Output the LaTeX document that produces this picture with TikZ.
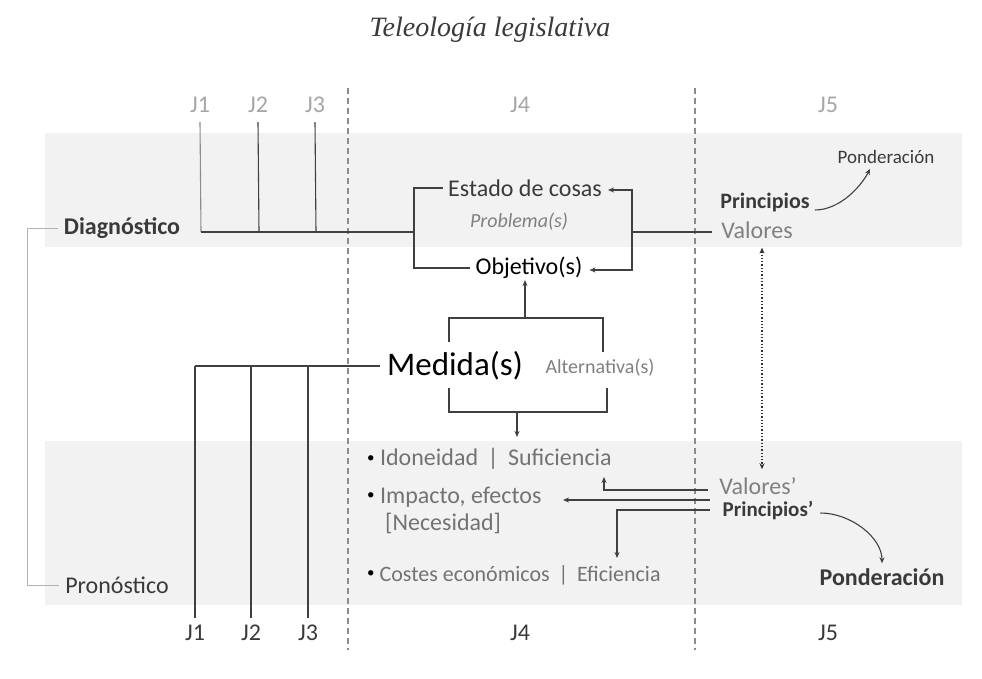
\documentclass[tikz,border=0pt]{standalone}
\usepackage{fontspec}
\setmainfont{Carlito}
\newfontfamily\titlefont{Liberation Serif}
\usetikzlibrary{arrows.meta}
\definecolor{bandgray}{HTML}{F2F2F2}
\definecolor{txtgray}{HTML}{808080}
\definecolor{txtlight}{HTML}{A6A6A6}
\definecolor{txtdark}{HTML}{3A3A3A}
\definecolor{linegray}{HTML}{8C8C8C}
\newcommand{\bul}{\raisebox{3.5pt}{\fontsize{15}{15}\selectfont\textcolor{black}{•}}}
\tikzset{
    band_fill/.style={fill=bandgray, draw=none},
    sep_line/.style={draw=linegray, line width=1.2pt, dash pattern=on 6pt off 4pt},
    base_text/.style={inner sep=1pt, font=\fontsize{24}{28}\selectfont},
    small_text/.style={inner sep=1pt, font=\fontsize{20}{24}\selectfont},
    j_top/.style={base_text, text=txtlight},
    j_bot/.style={base_text, text=txtdark},
    head_text/.style={base_text, text=txtdark, font=\fontsize{24}{28}\selectfont\bfseries},
    item_text/.style={base_text, text=txtgray!90!black, anchor=west},
    link/.style={draw=black!75, line width=1.1pt},
    link_arrow/.style={link, -{Stealth[length=6pt, width=5pt]}},
    dot_arrow/.style={draw=black!80, line width=1.3pt, dotted, {Stealth[length=6pt, width=5pt]}-{Stealth[length=6pt, width=5pt]}},
    brace_line/.style={draw=black!30, line width=0.8pt}
}

\begin{document}
\begin{tikzpicture}[x=1pt, y=-1pt, >=Stealth]
\useasboundingbox (0,0) rectangle (982,679);

% gray bands
\fill[band_fill] (45,133) rectangle (962,247);
\fill[band_fill] (45,441) rectangle (962,605);

% title
\node[text=txtdark, font=\titlefont\itshape\fontsize{28}{30}\selectfont] (title) at (490,30) {Teleología legislativa};

% column separators
\draw[sep_line] (348,88) -- (348,650);
\draw[sep_line] (695,88) -- (695,650);

% column labels
\foreach \n/\x in {1/200, 2/258, 3/315} {
    \node[j_top] (jt\n) at (\x,105) {J\n};
}
\node[j_top] (jt4) at (520,105) {J4};
\node[j_top] (jt5) at (828,105) {J5};
\foreach \n/\x in {1/195, 2/251, 3/308} {
    \node[j_bot] (jb\n) at (\x,633) {J\n};
}
\node[j_bot] (jb4) at (520,633) {J4};
\node[j_bot] (jb5) at (828,633) {J5};

% left side
\node[head_text] (diag)  at (122,228) {Diagnóstico};
\node[base_text, text=txtdark] (prono) at (117,585) {Pronóstico};
\draw[brace_line] ([xshift=-5pt]diag.west) -- ++(-30,0) |- ([xshift=-5pt]prono.west);

% diagnostico block
\node[base_text, text=txtdark] (estado) at (525,188) {Estado de cosas};
\node[small_text, text=txtgray, font=\fontsize{20}{24}\selectfont\itshape] (problema) at (519,222) {Problema(s)};
\node[base_text, text=black] (objetivo) at (529,268) {Objetivo(s)};
\node[head_text, font=\fontsize{22}{26}\selectfont\bfseries] (principios) at (765,203) {Principios};
\node[base_text, text=txtgray] (valores) at (757,230) {Valores};
\node[small_text, text=txtdark, font=\fontsize{19}{22}\selectfont] (pond_top) at (886,157) {Ponderación};

\coordinate (d1) at (201,232);
\coordinate (d2) at (259,232);
\coordinate (d3) at (316,232);
\coordinate (lb) at (414,232);
\coordinate (rb) at (632,232);

\draw[link, draw=black!45] ([yshift=-8pt]jt1.south) -- (d1);
\draw[link] ([yshift=-8pt]jt2.south) -- (d2);
\draw[link] ([yshift=-8pt]jt3.south) -- (d3);
\draw[link] (d1) -- (lb);
\draw[link] ([xshift=-4pt]estado.west) -| (lb) |- ([xshift=-4pt]objetivo.west);
\draw[link_arrow] (rb) |- ([xshift=5pt, yshift=-2pt]estado.east);
\draw[link_arrow] (rb) |- ([xshift=6pt, yshift=-2pt]objetivo.east);
\draw[link] (rb) -- ([xshift=-8pt]valores.west |- rb);
\draw[link_arrow] ([xshift=4pt, yshift=-7pt]principios.east)
    .. controls +(26,0) and +(-8,16) .. ([xshift=-16pt, yshift=-4pt]pond_top.south);

% medidas
\node[base_text, text=black, font=\fontsize{33}{38}\selectfont] (medida) at (455,366) {Medida(s)};
\node[small_text, text=txtgray] (altern) at (600,368) {Alternativa(s)};

\coordinate (mt_l) at (449,342);
\coordinate (mt_r) at (603,352);
\coordinate (mtop) at (525,318);
\coordinate (mb_l) at (449,388);
\coordinate (mb_r) at (607,388);
\coordinate (mbot) at (517,412);
\coordinate (mdown) at (517,437);

\draw[link] (mt_l) |- (mtop) -| (mt_r);
\draw[link_arrow] (mtop) -- (mtop |- objetivo.south);
\draw[link] (mb_l) |- (mbot) -| (mb_r);
\draw[link_arrow] (mbot) -- (mdown);

\coordinate (p1) at (195,366);
\coordinate (p2) at (251,366);
\coordinate (p3) at (308,366);
\draw[link] ([xshift=-6pt]medida.west) -- (p1);
\foreach \n in {1,2,3} {
    \draw[link] (p\n) -- ([yshift=6pt]jb\n.north);
}

% pronostico block
\node[item_text] (idon) at (366,459) {\bul\ Idoneidad \,|\, Suficiencia};
\node[item_text] (impact) at (366,497) {\bul\ Impacto, efectos};
\node[item_text] (neces) at (384,523) {[Necesidad]};
\node[item_text, font=\fontsize{22}{24}\selectfont] (costes) at (366,575) {\bul\ Costes económicos \,|\, Eficiencia};

\node[base_text, text=txtgray] (valores2) at (758,486) {Valores’};
\node[head_text, font=\fontsize{21}{24}\selectfont\bfseries] (principios2) at (768,511) {Principios’};
\node[head_text] (pond_bot) at (882,577) {Ponderación};

\draw[dot_arrow] ([xshift=5pt, yshift=-8pt]valores.south) -- ([xshift=4pt, yshift=7pt]valores2.north);

\coordinate (v_in1) at (708,490);
\coordinate (v_in2) at (710,500);
\coordinate (v_in3) at (710,510);
\coordinate (t_suf) at (604,477);
\coordinate (t_imp) at (563,500);
\coordinate (t_efi) at (617,558);

\draw[link_arrow] (v_in1) -| (t_suf);
\draw[link_arrow] (v_in2) -- (t_imp);
\draw[link_arrow] (v_in3) -| (t_efi);
\draw[link_arrow] ([xshift=6pt, yshift=-2pt]principios2.east)
    .. controls +(30,0) and +(0,-26) .. ([yshift=4pt]pond_bot.north);

\end{tikzpicture}
\end{document}
